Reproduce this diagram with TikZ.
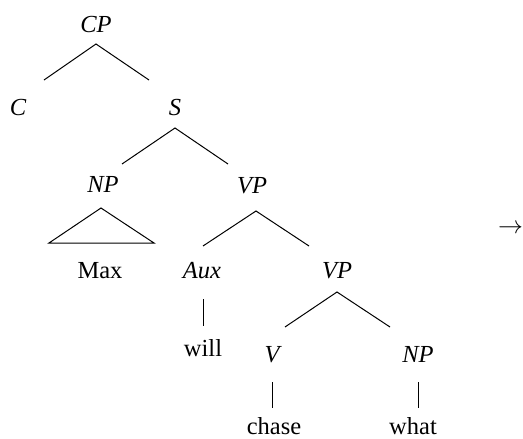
\documentclass[tikz,border=0pt]{standalone}
\usepackage{fontspec}
\setmainfont{Liberation Serif}
\begin{document}
\begin{tikzpicture}[x=1pt,y=-1pt,
  lab/.style={anchor=base,inner sep=0pt,text depth=0pt,font=\fontsize{24.5}{28}\selectfont},
  cat/.style={anchor=base,inner sep=0pt,text depth=0pt,font=\fontsize{24.5}{28}\selectfont\itshape},
  br/.style={line width=1pt}]
\useasboundingbox (0,0) rectangle (523,439);
% category labels
\node[cat] (CP) at (96,32) {CP};
\node[cat] (C) at (18,115) {C};
\node[cat] (S) at (175,115) {S};
\node[cat] (NPa) at (103,192) {NP};
\node[cat] (VPa) at (252,193) {VP};
\node[lab] (Max) at (100,278) {Max};
\node[cat] (Aux) at (202,278) {Aux};
\node[cat] (VPb) at (337,278) {VP};
\node[lab] (will) at (203,356) {will};
\node[cat] (V) at (272,362) {V};
\node[cat] (NPb) at (418,362) {NP};
\node[lab] (chase) at (274,434) {chase};
\node[lab] (what) at (413,434) {what};
\node[lab,anchor=base west] (arr) at (498,233) {\(\rightarrow\)};
% branch points
\coordinate (cpT) at (96,44);  \coordinate (cpL) at (44,80);  \coordinate (cpR) at (149,80);
\coordinate (sT) at (175,128); \coordinate (sL) at (122,164); \coordinate (sR) at (228,164);
\coordinate (npT) at (101,208); \coordinate (npL) at (49,243); \coordinate (npR) at (154,243);
\coordinate (vpT) at (256,211); \coordinate (vpL) at (203,246); \coordinate (vpR) at (309,246);
\coordinate (vbT) at (337,292); \coordinate (vbL) at (285,327); \coordinate (vbR) at (390,327);
\coordinate (auxB) at (203,299); \coordinate (willT) at (203,326);
\coordinate (vB) at (272,382); \coordinate (chT) at (272,408);
\coordinate (npB) at (418,382); \coordinate (whT) at (418,408);
\draw[br] (cpL) -- (cpT) -- (cpR);
\draw[br] (sL) -- (sT) -- (sR);
\draw[br] (npL) -- (npT) -- (npR) -- cycle;
\draw[br] (vpL) -- (vpT) -- (vpR);
\draw[br] (vbL) -- (vbT) -- (vbR);
\draw[br] (auxB) -- (willT);
\draw[br] (vB) -- (chT);
\draw[br] (npB) -- (whT);
\end{tikzpicture}
\end{document}
